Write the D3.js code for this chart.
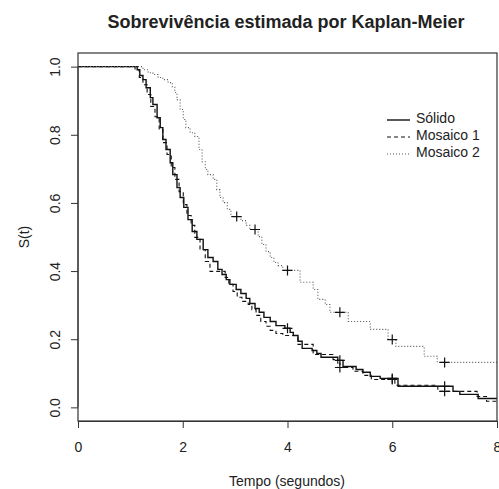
<!DOCTYPE html>
<html>
<head>
<meta charset="utf-8">
<script src="https://cdn.jsdelivr.net/npm/d3@7"></script>
<style>
  body { margin: 0; background: #fff; }
  text { font-family: "Liberation Sans", Arial, sans-serif; fill: #222; }
</style>
</head>
<body>
<script>
// Kaplan-Meier estimates (time, survival after the step)
var solidT = [0, 1.13, 1.18, 1.24, 1.30, 1.38, 1.43, 1.51, 1.57, 1.62, 1.68, 1.76, 1.81, 1.89, 1.95, 2.02, 2.10, 2.18, 2.27, 2.39, 2.48, 2.58, 2.67, 2.75, 2.83, 2.90, 3.02, 3.11, 3.21, 3.28, 3.38, 3.46, 3.55, 3.67, 3.78, 3.95, 4.05, 4.11, 4.20, 4.28, 4.47, 4.56, 4.64, 4.96, 5.06, 5.31, 5.44, 5.58, 5.77, 6.11, 7.16, 7.29, 7.64];
var solidS = [1, 0.991, 0.974, 0.962, 0.938, 0.909, 0.889, 0.850, 0.821, 0.786, 0.757, 0.718, 0.683, 0.645, 0.616, 0.587, 0.551, 0.516, 0.493, 0.463, 0.440, 0.428, 0.405, 0.390, 0.375, 0.361, 0.346, 0.334, 0.320, 0.305, 0.290, 0.279, 0.264, 0.252, 0.240, 0.232, 0.220, 0.211, 0.194, 0.173, 0.167, 0.158, 0.147, 0.138, 0.120, 0.111, 0.103, 0.091, 0.085, 0.062, 0.047, 0.038, 0.026];
var solidCens = [4, 5, 6, 7];

var mos1T = [0, 1.09, 1.17, 1.24, 1.32, 1.39, 1.47, 1.55, 1.62, 1.70, 1.78, 1.85, 1.93, 2.01, 2.08, 2.16, 2.23, 2.33, 2.43, 2.52, 2.81, 2.88, 2.96, 3.04, 3.13, 3.25, 3.32, 3.40, 3.49, 3.59, 3.67, 3.78, 3.91, 4.20, 4.49, 4.87, 4.96, 5.25, 5.44, 5.60, 6.05, 6.87, 7.62, 7.80];
var mos1S = [1, 0.991, 0.968, 0.947, 0.918, 0.883, 0.853, 0.815, 0.777, 0.742, 0.704, 0.669, 0.633, 0.595, 0.563, 0.534, 0.499, 0.463, 0.428, 0.399, 0.381, 0.361, 0.340, 0.323, 0.311, 0.302, 0.287, 0.270, 0.252, 0.238, 0.226, 0.217, 0.211, 0.185, 0.155, 0.140, 0.117, 0.106, 0.094, 0.082, 0.065, 0.047, 0.032, 0.018];
var mos1Cens = [5, 6, 7];

var mos2T = [0, 1.24, 1.34, 1.43, 1.53, 1.62, 1.72, 1.80, 1.85, 1.89, 1.95, 2.01, 2.06, 2.14, 2.23, 2.31, 2.37, 2.43, 2.48, 2.58, 2.65, 2.71, 2.77, 2.85, 2.92, 3.11, 3.21, 3.28, 3.44, 3.51, 3.59, 3.67, 3.74, 3.82, 3.91, 4.24, 4.49, 4.58, 4.72, 4.81, 5.16, 5.58, 5.92, 6.07, 6.61, 6.86];
var mos2S = [1, 0.991, 0.982, 0.977, 0.968, 0.962, 0.953, 0.941, 0.924, 0.903, 0.874, 0.845, 0.821, 0.806, 0.795, 0.757, 0.721, 0.698, 0.683, 0.669, 0.639, 0.616, 0.601, 0.581, 0.560, 0.548, 0.534, 0.522, 0.501, 0.478, 0.457, 0.440, 0.425, 0.416, 0.402, 0.367, 0.346, 0.317, 0.302, 0.279, 0.252, 0.229, 0.199, 0.179, 0.150, 0.132];
var mos2Cens = [3.03, 3.38, 4, 5, 6, 7];

var groupNames = ["Sólido", "Mosaico 1", "Mosaico 2"];
var xTicks = [0, 2, 4, 6, 8];
var yTicks = [0, 0.2, 0.4, 0.6, 0.8, 1.0];

var width = 499, height = 489;
var svg = d3.select("body").append("svg")
    .attr("width", width)
    .attr("height", height);

var x = d3.scaleLinear().domain([0, 8]).range([78, 497]);
var y = d3.scaleLinear().domain([-0.04, 1.04]).range([421, 53]);

var dashes = ["none", "4,3", "1,2"];
var widths = [1.4, 1.1, 1.1];
var colors = ["#111", "#111", "#555"];

svg.append("clipPath").attr("id", "box")
  .append("rect").attr("x", 78).attr("y", 53).attr("width", 419).attr("height", 368);

var groups = [
  {t: solidT, s: solidS, c: solidCens},
  {t: mos1T, s: mos1S, c: mos1Cens},
  {t: mos2T, s: mos2S, c: mos2Cens}
];

function survAt(g, t) {
  var v = 1;
  for (var i = 0; i < g.t.length; i++) if (g.t[i] <= t) v = g.s[i];
  return v;
}

var line = d3.line()
    .x(function(d) { return x(d[0]); })
    .y(function(d) { return y(d[1]); })
    .curve(d3.curveStepAfter);

var plot = svg.append("g").attr("clip-path", "url(#box)");

groups.forEach(function(g, i) {
  var pts = g.t.map(function(t, j) { return [t, g.s[j]]; });
  pts.push([8, g.s[g.s.length - 1]]);
  plot.append("path")
      .attr("d", line(pts))
      .attr("fill", "none")
      .attr("stroke", colors[i])
      .attr("stroke-width", widths[i])
      .attr("stroke-dasharray", dashes[i]);

  plot.selectAll(".cens" + i)
    .data(g.c)
    .enter().append("path")
      .attr("class", "cens" + i)
      .attr("d", function(t) {
        var cx = x(t), cy = y(survAt(g, t));
        return "M" + (cx - 5) + "," + cy + "H" + (cx + 5) + "M" + cx + "," + (cy - 5) + "V" + (cy + 5);
      })
      .attr("stroke", "#111")
      .attr("stroke-width", 1.2);
});

// frame
svg.append("rect")
    .attr("x", 78).attr("y", 53).attr("width", 419).attr("height", 368)
    .attr("fill", "none").attr("stroke", "#333").attr("stroke-width", 1.2);

// x axis
var xa = svg.append("g").attr("transform", "translate(0,421)")
    .call(d3.axisBottom(x).tickValues(xTicks).tickFormat(d3.format("d")).tickSize(7).tickPadding(14));
xa.select(".domain").attr("stroke", "#333");
xa.selectAll("line").attr("stroke", "#333");
xa.selectAll("text").style("font-size", "14px").attr("fill", "#222");

// y axis
var ya = svg.append("g").attr("transform", "translate(78,0)")
    .call(d3.axisLeft(y).tickValues(yTicks).tickFormat(d3.format(".1f")).tickSize(7).tickPadding(0));
ya.select(".domain").attr("d", "M0," + y(0) + "V" + y(1)).attr("stroke", "#333");
ya.selectAll("line").attr("stroke", "#333");
ya.selectAll("text")
    .style("font-size", "14px")
    .attr("fill", "#222")
    .attr("x", null).attr("dy", null)
    .attr("text-anchor", "middle")
    .attr("transform", "translate(-18,0) rotate(-90)");

// titles
svg.append("text")
    .attr("x", 286).attr("y", 28)
    .attr("text-anchor", "middle")
    .style("font-size", "18px").style("font-weight", "bold")
    .text("Sobrevivência estimada por Kaplan-Meier");

svg.append("text")
    .attr("x", 287).attr("y", 486)
    .attr("text-anchor", "middle")
    .style("font-size", "14px")
    .text("Tempo (segundos)");

svg.append("text")
    .attr("transform", "translate(29,237) rotate(-90)")
    .attr("text-anchor", "middle")
    .style("font-size", "14px")
    .text("S(t)");

// legend
var leg = svg.append("g");
groupNames.forEach(function(name, i) {
  var ly = 123 + i * 17;
  leg.append("line")
      .attr("x1", 387).attr("x2", 410)
      .attr("y1", ly - 3).attr("y2", ly - 3)
      .attr("stroke", colors[i])
      .attr("stroke-width", widths[i])
      .attr("stroke-dasharray", dashes[i]);
  leg.append("text")
      .attr("x", 416).attr("y", ly)
      .style("font-size", "14px")
      .text(name);
});
</script>
</body>
</html>
